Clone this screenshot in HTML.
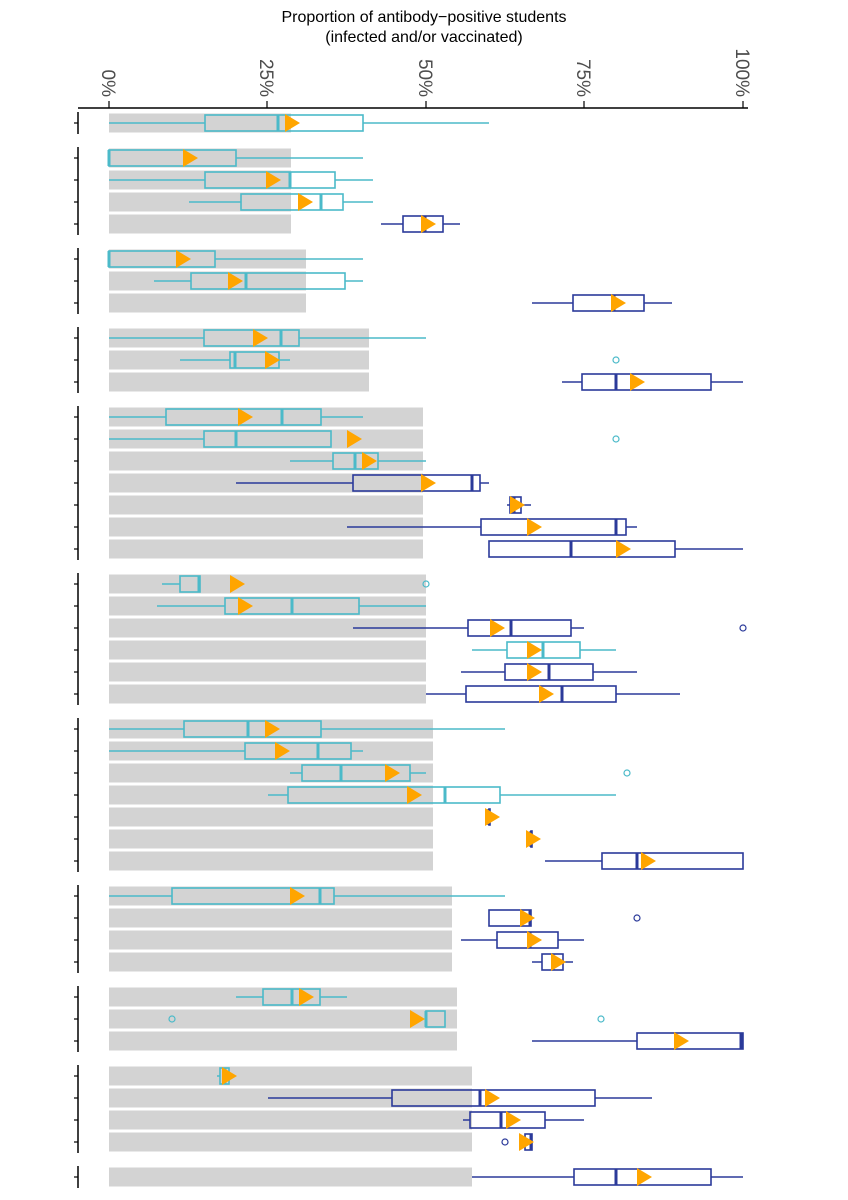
<!DOCTYPE html>
<html><head><meta charset="utf-8"><style>body{margin:0;background:#fff}svg{display:block}</style></head>
<body>
<svg id="s" width="848" height="1200" xmlns="http://www.w3.org/2000/svg" font-family="Liberation Sans, sans-serif">
<text x="424" y="22" font-size="16" text-anchor="middle">Proportion of antibody−positive students</text>
<text x="424" y="42" font-size="16" text-anchor="middle">(infected and/or vaccinated)</text>
</svg>
<script>
const s=document.getElementById('s');const NS='http://www.w3.org/2000/svg';
function el(t,a,txt){const e=document.createElementNS(NS,t);for(const k in a)e.setAttribute(k,a[k]);if(txt)e.textContent=txt;s.appendChild(e);return e;}
const T='#4BBAC9',N='#2B3A9A',O='#FFA500';
el('line',{x1:78,y1:108,x2:748,y2:108,stroke:'#000','stroke-width':1.5});
[[109,'0%'],[267,'25%'],[426,'50%'],[584,'75%'],[743,'100%']].forEach(([x,l])=>{
el('line',{x1:x,y1:101,x2:x,y2:108,stroke:'#000','stroke-width':1.2});
el('text',{x:0,y:0,'font-size':19,fill:'#4d4d4d','text-anchor':'end',transform:`translate(${x-7},97) rotate(90)`},l);});
const groups=[
 {g:291,rows:[123]},{g:291,rows:[158,180,202,224]},{g:306,rows:[259,281,303]},{g:369,rows:[338,360,382]},
 {g:423,rows:[417,439,461,483,505,527,549]},{g:426,rows:[584,606,628,650,672,694]},
 {g:433,rows:[729,751,773,795,817,839,861]},{g:452,rows:[896,918,940,962]},{g:457,rows:[997,1019,1041]},
 {g:472,rows:[1076,1098,1120,1142]},{g:472,rows:[1177]}];
groups.forEach(G=>{const r=G.rows;el('line',{x1:78,y1:r[0]-11,x2:78,y2:r[r.length-1]+11,stroke:'#000','stroke-width':1.5});
r.forEach(y=>{el('line',{x1:74,y1:y,x2:78,y2:y,stroke:'#000','stroke-width':1.2});
el('rect',{x:109,y:y-9.5,width:G.g-109,height:19,fill:'#d3d3d3'});});});
const D=[
[123,T,109,205,278,363,489,292],
[158,T,109,109,109,236,363,190],
[180,T,109,205,290,335,373,273],
[202,T,189,241,321,343,373,305],
[224,N,381,403,425,443,460,428],
[259,T,109,109,109,215,363,183],
[281,T,154,191,246,345,363,235],
[303,N,532,573,614,644,672,618],
[338,T,109,204,281,299,426,260],
[360,T,180,230,235,279,290,272,[616]],
[382,N,562,582,616,711,743,637],
[417,T,109,166,282,321,363,245],
[439,T,109,204,236,331,331,354,[616]],
[461,T,290,333,355,378,426,369],
[483,N,236,353,472,480,489,428],
[505,N,507,510,514,521,531,517],
[527,N,347,481,616,626,637,534],
[549,N,489,489,571,675,743,623],
[584,T,162,180,199,200,200,237,[426]],
[606,T,157,225,292,359,426,245],
[628,N,353,468,511,571,584,497,[743]],
[650,T,472,507,543,580,616,534],
[672,N,461,505,549,593,637,534],
[694,N,426,466,562,616,680,546],
[729,T,109,184,248,321,505,272],
[751,T,109,245,318,351,363,282],
[773,T,290,302,341,410,426,392,[627]],
[795,T,268,288,445,500,616,414],
[817,N,489,489,489,489,489,492],
[839,N,531,531,531,531,531,533],
[861,N,545,602,637,743,743,648],
[896,T,109,172,320,334,505,297],
[918,N,489,489,530,531,531,527,[637]],
[940,N,461,497,530,558,584,534],
[962,N,532,542,553,563,573,558],
[997,T,236,263,292,320,347,306],
[1019,T,426,426,426,445,445,417,[172,601]],
[1041,N,532,637,741,743,743,681],
[1076,T,217,220,225,229,229,229],
[1098,N,268,392,480,595,652,492],
[1120,N,463,470,501,545,584,513],
[1142,N,525,525,531,532,532,526,[505]],
[1177,N,472,574,616,711,743,644]];
D.forEach(([y,c,wl,q1,md,q3,wh,m,o])=>{
 el('line',{x1:wl,y1:y,x2:q1,y2:y,stroke:c,'stroke-width':1.5});
 el('line',{x1:q3,y1:y,x2:wh,y2:y,stroke:c,'stroke-width':1.5});
 el('rect',{x:q1,y:y-8,width:Math.max(q3-q1,1),height:16,fill:'none',stroke:c,'stroke-width':1.6});
 el('line',{x1:md,y1:y-8,x2:md,y2:y+8,stroke:c,'stroke-width':3});
 (o||[]).forEach(x=>el('circle',{cx:x,cy:y,r:3,fill:'none',stroke:c,'stroke-width':1.2}));
 el('polygon',{points:`${m-7},${y-9} ${m-7},${y+9} ${m+8},${y}`,fill:O});
});
</script>
</body></html>
